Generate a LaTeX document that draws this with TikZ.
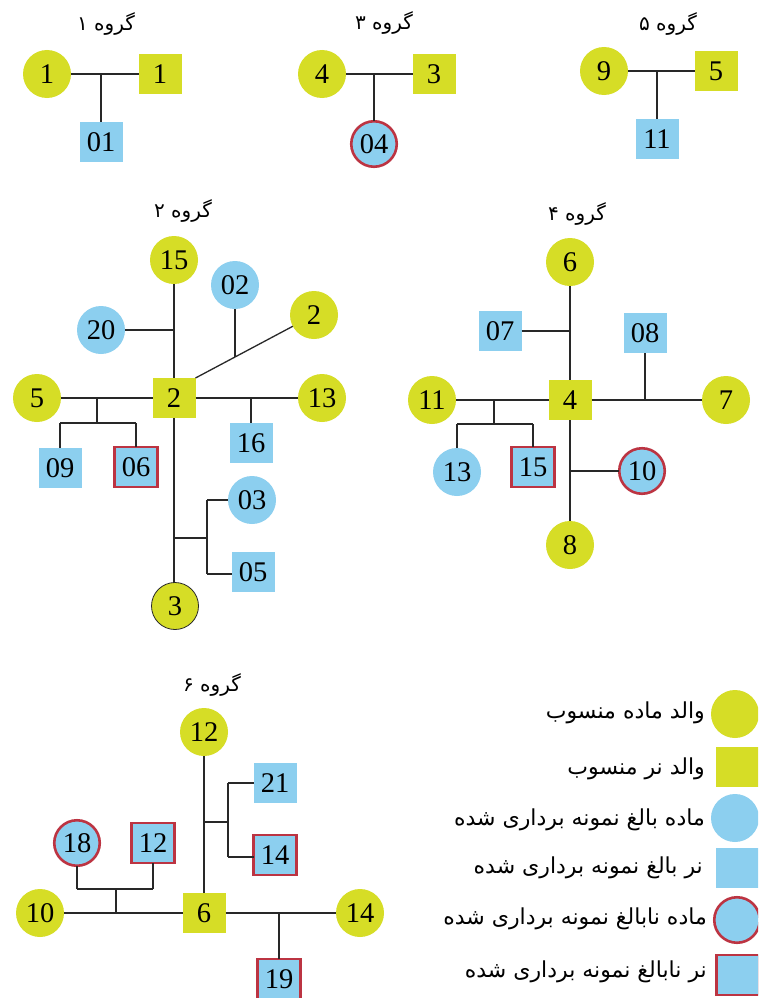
\documentclass[tikz,border=0pt]{standalone}
\usepackage{fontspec}
\setmainfont{Liberation Serif}
\newfontfamily\arabicfont[Script=Arabic]{DejaVu Sans}
\TeXXeTstate=1
\definecolor{ylw}{RGB}{214,221,38}
\definecolor{blu}{RGB}{140,207,239}
\definecolor{rdb}{RGB}{188,52,66}
\definecolor{lnc}{RGB}{40,40,40}
\tikzset{
  base/.style={inner sep=0pt, outer sep=0pt, font=\fontsize{28.5}{28.5}\selectfont},
  pf/.style={base, circle, fill=ylw, minimum size=48pt},
  pm/.style={base, rectangle, fill=ylw, minimum width=43pt, minimum height=40pt},
  af/.style={base, circle, fill=blu, minimum size=48pt},
  am/.style={base, rectangle, fill=blu, minimum width=43pt, minimum height=40pt},
  jf/.style={base, circle, fill=blu, draw=rdb, line width=2.6pt, minimum size=45.5pt},
  jm/.style={base, rectangle, fill=blu, draw=rdb, line width=2.6pt, minimum width=43pt, minimum height=40pt},
  ttl/.style={inner sep=0pt, font=\arabicfont\fontsize{20}{20}\selectfont},
  leg/.style={inner sep=0pt, anchor=east, font=\arabicfont\fontsize{22}{22}\selectfont},
  ln/.style={draw=lnc, line width=1.3pt}
}
\begin{document}
\begin{tikzpicture}[x=1pt,y=-1pt]
\useasboundingbox (0,0) rectangle (758,998);
\clip (0,0) rectangle (758,998);
\fill[white] (0,0) rectangle (758,998);

% ---------- Group 1 ----------
\node[ttl] (t1) at (106,24) {\beginR گروه ۱\endR};
\node[pf] (A1) at (47,74) {1};
\node[pm] (B1) at (160,74) {1};
\node[am] (C1) at (101,142) {01};
\coordinate (j1) at (101,74);
\draw[ln] (A1) -- (B1);
\draw[ln] (j1) -- (C1);

% ---------- Group 3 ----------
\node[ttl] (t3) at (384,23) {\beginR گروه ۳\endR};
\node[pf] (A3) at (322,74) {4};
\node[pm] (B3) at (434,74) {3};
\node[jf] (C3) at (374,144) {04};
\coordinate (j3) at (374,74);
\draw[ln] (A3) -- (B3);
\draw[ln] (j3) -- (C3);

% ---------- Group 5 ----------
\node[ttl] (t5) at (668,24) {\beginR گروه ۵\endR};
\node[pf] (A5) at (604,71) {9};
\node[pm] (B5) at (716,71) {5};
\node[am] (C5) at (657,139) {11};
\coordinate (j5) at (657,71);
\draw[ln] (A5) -- (B5);
\draw[ln] (j5) -- (C5);

% ---------- Group 2 ----------
\node[ttl] (t2) at (183,211) {\beginR گروه ۲\endR};
\node[pf] (n15) at (174,260) {15};
\node[af] (n02) at (235,285) {02};
\node[pf] (n2c) at (314,315) {2};
\node[af] (n20) at (101,330) {20};
\node[pm] (S2) at (174,398) {2};
\node[pf] (n5) at (37,398) {5};
\node[pf] (n13) at (322,398) {13};
\node[am] (n16) at (251,443) {16};
\node[am] (n09) at (60,468) {09};
\node[jm] (n06) at (136,467) {06};
\node[af] (n03) at (252,500) {03};
\node[am] (n05) at (253,572) {05};
\node[pf, draw=lnc, line width=0.8pt, minimum size=47pt] (n3) at (175,606) {3};

\draw[ln] (n15) -- (S2);
\draw[ln] (S2) -- (S2 |- n3.north);
\coordinate (j20) at (174,330);
\draw[ln] (n20) -- (j20);
\draw[ln] (S2.north east) -- (n2c);
\coordinate (j02) at (235,356.5);
\draw[ln] (n02) -- (j02);
\draw[ln] (n5) -- (S2);
\coordinate (j5a) at (97,398);
\coordinate (j5b) at (97,423);
\coordinate (k09) at (60,423);
\coordinate (k06) at (136,423);
\draw[ln] (j5a) -- (j5b);
\draw[ln] (k09) -- (k06);
\draw[ln] (k09) -- (n09);
\draw[ln] (k06) -- (n06);
\draw[ln] (S2) -- (n13);
\coordinate (j16) at (251,398);
\draw[ln] (j16) -- (n16);
\coordinate (j35) at (174,538);
\coordinate (k35) at (207,538);
\coordinate (k03) at (207,500);
\coordinate (k05) at (207,574);
\draw[ln] (j35) -- (k35);
\draw[ln] (k03) -- (k05);
\draw[ln] (k03) -- (n03);
\draw[ln] (k05) -- (n05.west |- k05);

% ---------- Group 4 ----------
\node[ttl] (t4) at (577,214) {\beginR گروه ۴\endR};
\node[pf] (n6) at (570,262) {6};
\node[am] (n07) at (500,331) {07};
\node[am] (n08) at (645,333) {08};
\node[pm] (S4) at (570,400) {4};
\node[pf] (n11) at (432,400) {11};
\node[pf] (n7) at (726,400) {7};
\node[af] (n13b) at (457,472) {13};
\node[jm] (n15b) at (533,467) {15};
\node[jf] (n10) at (642,471) {10};
\node[pf] (n8) at (570,545) {8};

\draw[ln] (n6) -- (S4);
\draw[ln] (S4) -- (n8);
\coordinate (j07) at (570,331);
\draw[ln] (n07) -- (j07);
\coordinate (j08) at (645,400);
\draw[ln] (n08) -- (j08);
\draw[ln] (S4) -- (n7);
\draw[ln] (n11) -- (S4);
\coordinate (j11a) at (494,400);
\coordinate (j11b) at (494,424);
\coordinate (k13) at (457,424);
\coordinate (k15) at (533,424);
\draw[ln] (j11a) -- (j11b);
\draw[ln] (k13) -- (k15);
\draw[ln] (k13) -- (n13b);
\draw[ln] (k15) -- (n15b);
\coordinate (j10) at (570,471);
\draw[ln] (j10) -- (n10);

% ---------- Group 6 ----------
\node[ttl] (t6) at (212,685) {\beginR گروه ۶\endR};
\node[pf] (n12) at (204,732) {12};
\node[am] (n21) at (275,783) {21};
\node[jm] (n14s) at (275,855) {14};
\node[jf] (n18) at (77,843) {18};
\node[jm] (n12s) at (153,843) {12};
\node[pf] (n10c) at (40,913) {10};
\node[pm] (S6) at (204,913) {6};
\node[pf] (n14c) at (360,913) {14};
\node[jm] (n19) at (279,979) {19};

\draw[ln] (n12) -- (S6);
\coordinate (j6a) at (204,822);
\coordinate (k6a) at (228,822);
\coordinate (k21) at (228,783);
\coordinate (k14) at (228,857);
\draw[ln] (j6a) -- (k6a);
\draw[ln] (k21) -- (k14);
\draw[ln] (k21) -- (n21);
\draw[ln] (k14) -- (n14s.west |- k14);
\draw[ln] (n10c) -- (S6);
\coordinate (j6b) at (116,913);
\coordinate (j6c) at (116,889);
\coordinate (k18) at (77,889);
\coordinate (k12) at (153,889);
\draw[ln] (j6b) -- (j6c);
\draw[ln] (k18) -- (k12);
\draw[ln] (k18) -- (n18);
\draw[ln] (k12) -- (n12s);
\draw[ln] (S6) -- (n14c);
\coordinate (j19) at (279,913);
\draw[ln] (j19) -- (n19);

% ---------- Legend ----------
\node[pf] (L1) at (735,714) {};
\node[pm] (L2) at (737,767) {};
\node[af] (L3) at (735,818) {};
\node[am] (L4) at (737,868) {};
\node[jf] (L5) at (737,920) {};
\node[jm] (L6) at (738,975) {};
\node[leg] (T1) at (705,713) {\beginR والد ماده منسوب\endR};
\node[leg] (T2) at (705,769) {\beginR والد نر منسوب\endR};
\node[leg] (T3) at (705,820) {\beginR ماده بالغ نمونه برداری شده\endR};
\node[leg] (T4) at (703,868) {\beginR نر بالغ نمونه برداری شده\endR};
\node[leg] (T5) at (707,919) {\beginR ماده نابالغ نمونه برداری شده\endR};
\node[leg] (T6) at (707,972) {\beginR نر نابالغ نمونه برداری شده\endR};
\end{tikzpicture}
\end{document}
